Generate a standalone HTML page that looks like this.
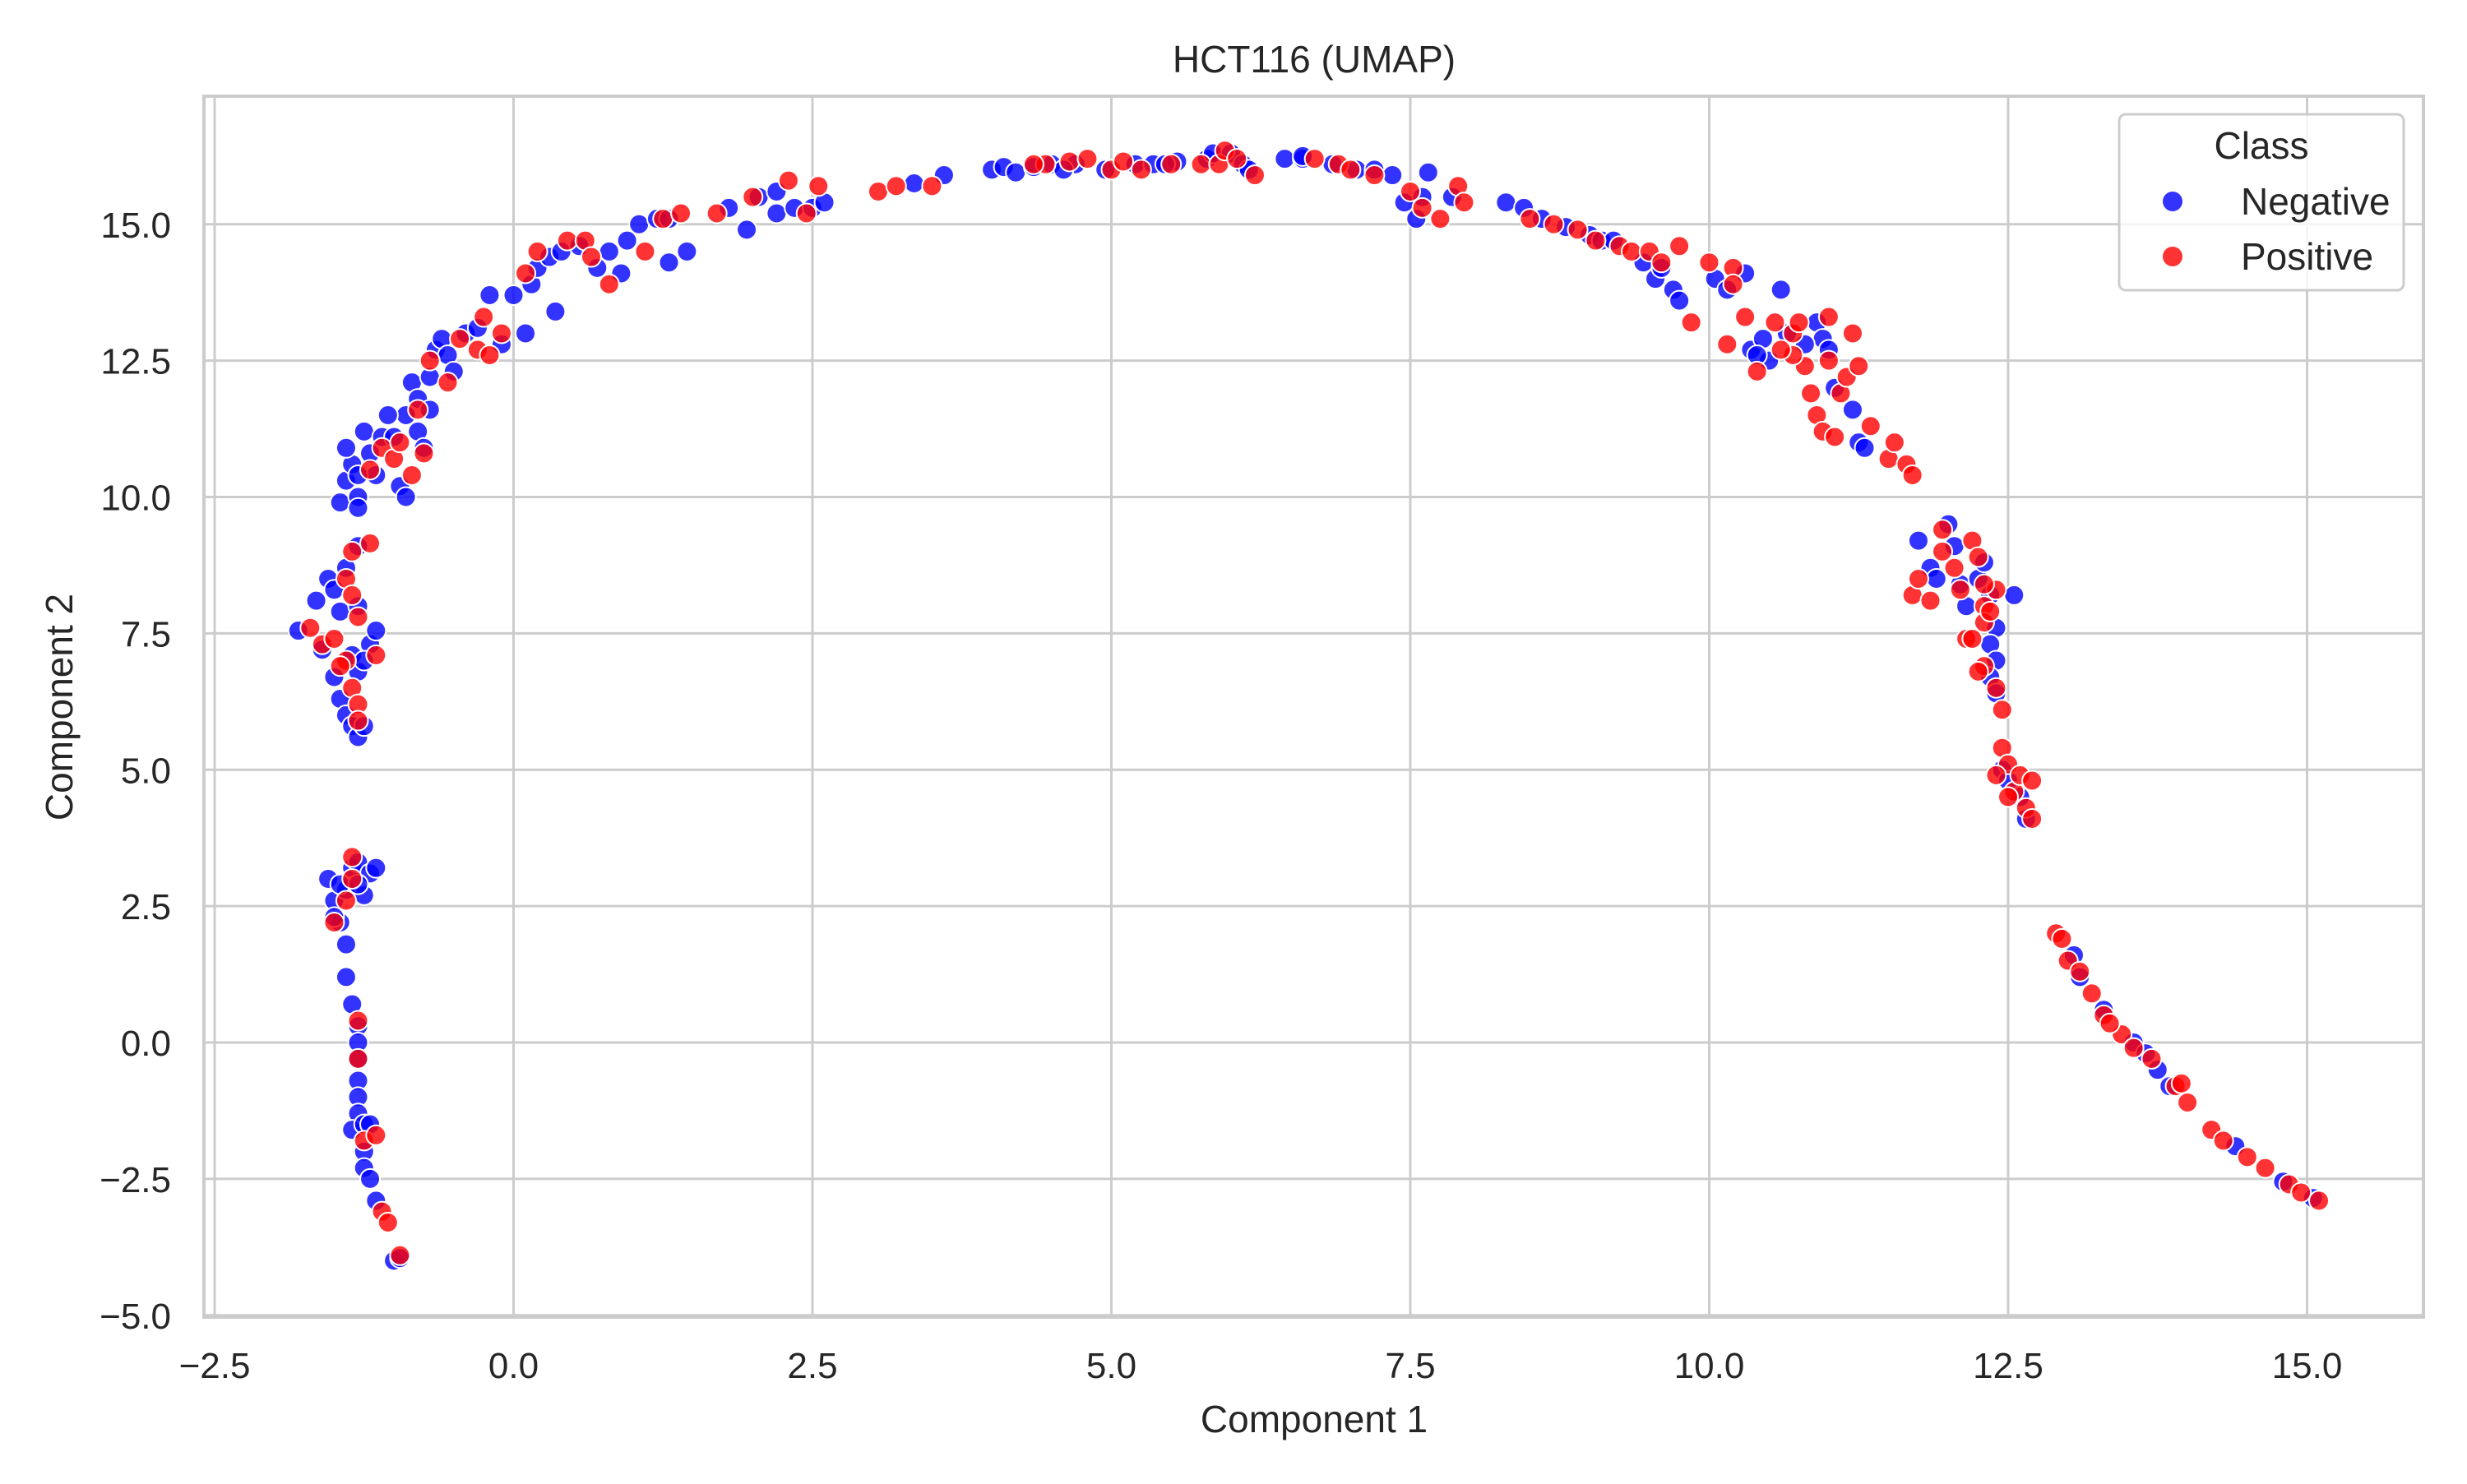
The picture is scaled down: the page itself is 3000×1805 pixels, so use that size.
<!DOCTYPE html>
<html><head><meta charset="utf-8"><style>
body{margin:0;background:#fff}
svg text{font-family:"Liberation Sans",Arial,sans-serif;fill:#262626}
</style></head><body>
<svg id="chart" width="3000" height="1800" viewBox="0 0 3000 1800" xmlns="http://www.w3.org/2000/svg">
<rect width="3000" height="1800" fill="#fff"/>
<g id="grid"></g>
<g id="ticks"></g>
<g id="points"></g>
<rect x="248" y="117" width="2699" height="1485" fill="none" stroke="#cccccc" stroke-width="4"/>
<text x="1598" y="88" font-size="46" text-anchor="middle">HCT116 (UMAP)</text>
<text x="1598" y="1742" font-size="46" text-anchor="middle">Component 1</text>
<text transform="translate(88,860) rotate(-90)" font-size="46" text-anchor="middle">Component 2</text>
<g>
<rect x="2577" y="139" width="346" height="214" rx="8" fill="#fff" fill-opacity="0.8" stroke="#cccccc" stroke-width="3"/>
<text x="2750" y="193" font-size="46" text-anchor="middle">Class</text>
<circle cx="2642" cy="245" r="12" fill="#0000ff" fill-opacity="0.8"/>
<text x="2725" y="261" font-size="46">Negative</text>
<circle cx="2642" cy="312" r="12" fill="#ff0000" fill-opacity="0.8"/>
<text x="2725" y="328" font-size="46">Positive</text>
</g>
</svg>
<script>
const xTicks=[-2.5,0,2.5,5,7.5,10,12.5,15];
const yTicks=[-5,-2.5,0,2.5,5,7.5,10,12.5,15];
const negX=[-1.55,-1.5,-1.45,-1.4,-1.35,-1.3,-1.2,-1.15,-1.25,-1.4,-1.4,-1.35,-1.3,-1.3,-1.3,-1.3,-1.3,-1.3,-1.35,-1.25,-1.2,-1.25,-1.25,-1.2,-1.15,-1.0,-0.95,-1.5,-1.45,-1.3,
-1.8,-1.65,-1.55,-1.5,-1.45,-1.6,-1.5,-1.45,-1.4,-1.35,-1.3,-1.25,-1.3,-1.35,-1.2,-1.15,-1.3,-1.3,-1.4,-1.25,
-1.45,-1.4,-1.35,-1.4,-1.3,-1.3,-1.25,-1.2,-1.15,-1.1,-1.3,-0.95,-0.9,-1.0,-0.9,-0.8,-0.85,-0.8,-0.7,-0.65,-0.6,-0.55,-0.5,-0.4,-0.3,-0.2,-0.1,0.0,0.1,0.15,0.2,0.3,0.4,0.35,0.55,0.7,0.8,0.9,0.95,-0.75,-1.05,-0.7,
1.05,1.2,1.3,1.3,1.45,1.8,1.95,2.05,2.2,2.2,2.35,2.5,2.6,3.35,3.6,4.0,4.1,4.2,4.35,4.5,4.7,4.95,5.2,5.35,5.55,5.8,5.85,6.0,6.1,6.15,6.45,6.6,6.6,6.85,7.05,7.2,7.35,7.45,7.55,7.6,7.65,7.85,4.6,5.45,
8.3,8.45,8.6,8.8,9.0,9.1,9.2,9.45,9.55,9.6,9.7,9.75,10.05,10.15,10.3,10.35,10.45,10.5,10.6,10.65,10.9,10.95,11.05,11.2,11.25,11.3,10.8,11.0,10.4,
11.75,11.85,11.9,12.0,12.1,12.15,12.25,12.3,12.35,12.4,12.35,12.4,12.35,12.4,12.55,12.45,12.5,12.6,12.65,12.05,
13.05,13.1,13.3,13.55,13.65,13.75,13.85,14.4,14.8,15.05];
const negY=[3.0,2.6,2.2,2.8,3.2,3.3,3.1,3.2,2.7,1.8,1.2,0.7,0.3,0.0,-0.3,-0.7,-1.0,-1.3,-1.6,-1.5,-1.5,-2.0,-2.3,-2.5,-2.9,-4.0,-3.95,2.3,2.9,2.9,
7.55,8.1,8.5,8.3,7.9,7.2,6.7,6.3,6.0,5.8,5.6,5.8,6.8,7.1,7.3,7.55,8.0,9.1,8.7,7.0,
9.9,10.3,10.6,10.9,10.0,9.8,11.2,10.8,10.4,11.1,10.4,10.2,10.0,11.1,11.5,11.2,12.1,11.8,12.2,12.7,12.9,12.6,12.3,13.0,13.1,13.7,12.8,13.7,13.0,13.9,14.2,14.4,14.5,13.4,14.6,14.2,14.5,14.1,14.7,10.9,11.5,11.6,
15.0,15.1,15.1,14.3,14.5,15.3,14.9,15.5,15.6,15.2,15.3,15.3,15.4,15.75,15.9,16.0,16.05,15.95,16.05,16.1,16.1,16.0,16.1,16.1,16.15,16.2,16.3,16.3,16.1,16.0,16.2,16.2,16.25,16.1,16.0,16.0,15.9,15.4,15.1,15.5,15.95,15.5,16.0,16.1,
15.4,15.3,15.1,14.95,14.8,14.7,14.7,14.3,14.0,14.2,13.8,13.6,14.0,13.8,14.1,12.7,12.9,12.5,13.8,13.0,13.2,12.9,12.0,11.6,11.0,10.9,12.8,12.7,12.6,
9.2,8.7,8.5,9.5,8.4,8.0,8.5,8.8,8.2,7.6,7.3,7.0,6.7,6.4,8.2,5.0,4.8,4.5,4.1,9.1,
1.6,1.2,0.6,0.0,-0.2,-0.5,-0.8,-1.9,-2.55,-2.85];
const posX=[-1.35,-1.5,-1.35,-1.3,-1.3,-1.25,-1.15,-1.1,-1.05,-0.95,-1.4,
-1.7,-1.6,-1.5,-1.4,-1.35,-1.4,-1.35,-1.3,-1.35,-1.2,-1.3,-1.15,-1.45,-1.3,
-1.2,-1.1,-1.0,-0.85,-0.75,-0.8,-0.7,-0.55,-0.45,-0.3,-0.25,-0.2,-0.1,0.1,0.2,0.45,0.6,0.65,0.8,-0.95,
1.1,1.25,1.4,1.7,2.0,2.3,2.45,2.55,3.05,3.2,3.5,4.45,4.65,4.8,5.0,5.1,5.25,5.5,5.75,5.9,5.95,6.05,6.2,6.7,6.9,7.0,7.2,7.5,7.6,7.75,7.9,7.95,4.35,
8.5,8.7,8.9,9.05,9.25,9.35,9.5,9.6,9.75,9.85,10.0,10.2,10.2,10.15,10.3,10.4,10.55,10.7,10.75,10.8,10.85,10.9,10.95,11.0,11.05,11.1,11.15,11.2,11.25,11.35,11.5,11.55,11.65,11.7,10.7,11.0,10.6,
11.7,11.75,11.85,11.95,11.95,12.05,12.1,12.15,12.2,12.25,12.3,12.3,12.35,12.4,12.3,12.4,12.45,12.25,12.2,12.45,12.5,12.4,12.55,12.6,12.7,12.65,12.7,12.5,12.3,
12.9,12.95,13.0,13.1,13.2,13.3,13.45,13.55,13.7,13.9,14.0,14.2,14.3,14.5,14.65,14.85,14.95,15.1,13.35,13.95];
const posY=[3.4,2.2,3.0,0.4,-0.3,-1.8,-1.7,-3.1,-3.3,-3.9,2.6,
7.6,7.3,7.4,8.5,8.2,7.0,6.5,6.2,9.0,9.15,7.8,7.1,6.9,5.9,
10.5,10.9,10.7,10.4,10.8,11.6,12.5,12.1,12.9,12.7,13.3,12.6,13.0,14.1,14.5,14.7,14.7,14.4,13.9,11.0,
14.5,15.1,15.2,15.2,15.5,15.8,15.2,15.7,15.6,15.7,15.7,16.1,16.15,16.2,16.0,16.15,16.0,16.1,16.1,16.1,16.35,16.2,15.9,16.2,16.1,16.0,15.9,15.6,15.3,15.1,15.7,15.4,16.1,
15.1,15.0,14.9,14.7,14.6,14.5,14.5,14.3,14.6,13.2,14.3,14.2,13.9,12.8,13.3,12.3,13.2,13.0,13.2,12.4,11.9,11.5,11.2,12.5,11.1,11.9,12.2,13.0,12.4,11.3,10.7,11.0,10.6,10.4,12.6,13.3,12.7,
8.2,8.5,8.1,9.0,9.4,8.7,8.3,7.4,9.2,8.9,8.0,7.7,7.9,8.3,6.9,6.5,6.1,6.8,7.4,5.4,5.1,4.9,4.6,4.9,4.8,4.3,4.1,4.5,8.4,
2.0,1.9,1.5,1.3,0.9,0.5,0.15,-0.1,-0.3,-0.8,-1.1,-1.6,-1.8,-2.1,-2.3,-2.6,-2.75,-2.9,0.35,-0.75];

const NS="http://www.w3.org/2000/svg";
function sx(v){return 624.5+v*145.4;}
function sy(v){return 1268+(-v)*66.35;}
function mk(tag,attrs,parent){const e=document.createElementNS(NS,tag);for(const k in attrs)e.setAttribute(k,attrs[k]);parent.appendChild(e);return e;}
const grid=document.getElementById('grid'),ticks=document.getElementById('ticks'),pts=document.getElementById('points');
xTicks.forEach(t=>{
  const l=mk('line',{x1:sx(t),x2:sx(t),y1:117,y2:1602,stroke:'#cccccc','stroke-width':3},grid);
  
  
  const tx=mk('text',{x:sx(t),y:1676,'font-size':44,'text-anchor':'middle'},ticks);
  tx.textContent=(t<0?'\u2212':'')+Math.abs(t).toFixed(1);
  
  
});
yTicks.forEach(t=>{
  const l=mk('line',{x1:248,x2:2947,y1:sy(t),y2:sy(t),stroke:'#cccccc','stroke-width':3},grid);
  
  
  const tx=mk('text',{x:208,y:sy(t)+16,'font-size':44,'text-anchor':'end'},ticks);
  tx.textContent=(t<0?'\u2212':'')+Math.abs(t).toFixed(1);
  
  
});
function draw(xs,ys,col,name){
  for(let i=0;i<xs.length;i++){
    const c=mk('circle',{cx:sx(xs[i]),cy:sy(ys[i]),r:12,fill:col,'fill-opacity':0.8,stroke:'#fff','stroke-width':2},pts);
    
    
  }
}
draw(negX,negY,'#0000ff','negative-point');
draw(posX,posY,'#ff0000','positive-point');
</script>
</body></html>
